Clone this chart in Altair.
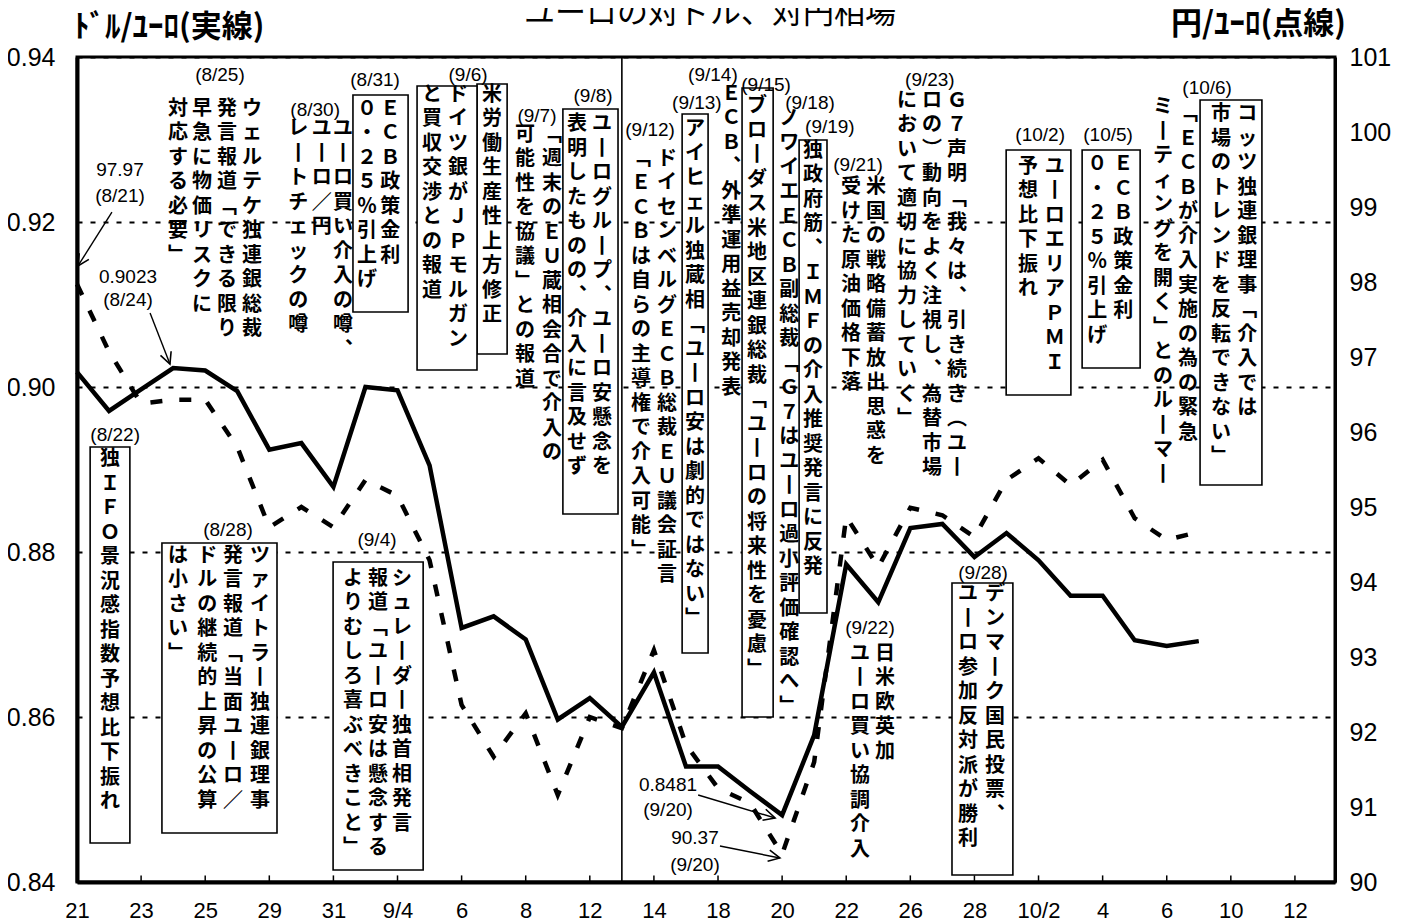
import math
import altair as alt
import pandas as pd

# ---------------- data ----------------
trading_days = ["8/21", "8/22", "8/23", "8/24", "8/25", "8/28", "8/29", "8/30", "8/31", "9/1",
                "9/4", "9/5", "9/6", "9/7", "9/8", "9/11", "9/12", "9/13", "9/14", "9/15",
                "9/18", "9/19", "9/20", "9/21", "9/22", "9/25", "9/26", "9/27", "9/28", "9/29",
                "10/2", "10/3", "10/4", "10/5", "10/6", "10/9", "10/10", "10/11", "10/12"]

usd_per_eur = [0.9018, 0.8971, 0.8997, 0.9023, 0.9020, 0.8995, 0.8924, 0.8932, 0.8879, 0.9000,
               0.8996, 0.8905, 0.8708, 0.8722, 0.8694, 0.8597, 0.8623, 0.8588, 0.8654, 0.8540,
               0.8540, 0.8510, 0.8481, 0.8578, 0.8785, 0.8739, 0.8829, 0.8834, 0.8794, 0.8823,
               0.8790, 0.8747, 0.8747, 0.8693, 0.8686, 0.8692]

jpy_per_eur = [97.97, 97.07, 96.38, 96.43, 96.43, 95.80, 94.73, 95.00, 94.73, 95.36,
               95.15, 94.29, 92.36, 91.67, 92.25, 91.16, 92.20, 92.05, 93.09, 91.83,
               91.25, 91.05, 90.37, 91.60, 94.87, 94.20, 94.99, 94.89, 94.60, 95.36,
               95.65, 95.29, 95.63, 94.85, 94.56, 94.67]

x_tick_labels = ["21", "23", "25", "29", "31", "9/4", "6", "8", "12", "14",
                 "18", "20", "22", "26", "28", "10/2", "4", "6", "10", "12"]
usd_ticks = [0.84, 0.86, 0.88, 0.90, 0.92, 0.94]
jpy_ticks = [90, 91, 92, 93, 94, 95, 96, 97, 98, 99, 100, 101]
event_day = "9/13"

title_text = "ユーロの対ドル、対円相場"
left_title = "ﾄﾞﾙ/ﾕｰﾛ(実線)"
right_title = "円/ﾕｰﾛ(点線)"

# news annotations: (day index, top in USD/EUR units, text of one vertical column)
note_columns = [
    (5.46, 0.93491, "ウェルテケ独連銀総裁"),
    (4.68, 0.93491, "発言報道「できる限り"),
    (3.90, 0.93491, "早急に物価リスクに"),
    (3.15, 0.93491, "対応する必要」"),
    (8.30, 0.93248, "ユーロ買い介入の噂、"),
    (7.64, 0.93248, "ユーロ／円"),
    (6.90, 0.93248, "レートチェックの噂"),
    (9.77, 0.93491, "ＥＣＢ政策金利"),
    (9.05, 0.93491, "０・２５％引上げ"),
    (12.95, 0.93661, "米労働生産性上方修正"),
    (11.89, 0.93661, "ドイツ銀がＪＰモルガン"),
    (11.08, 0.93661, "と買収交渉との報道"),
    (14.82, 0.93176, "「週末のＥＵ蔵相会合で介入の"),
    (13.98, 0.93176, "可能性を協議」との報道"),
    (16.38, 0.93309, "ユーログループ、ユーロ安懸念を"),
    (15.60, 0.93309, "表明したものの、介入に言及せず"),
    (18.41, 0.92885, "ドイセンベルグＥＣＢ総裁ＥＵ議会証言"),
    (17.60, 0.92885, "「ＥＣＢは自らの主導権で介入可能」"),
    (19.28, 0.93248, "アイヒェル独蔵相「ユーロ安は劇的ではない」"),
    (20.41, 0.93673, "ＥＣＢ、外準運用益売却発表"),
    (21.22, 0.93527, "ブローダス米地区連銀総裁「ユーロの将来性を憂慮」"),
    (22.22, 0.93370, "ノワイエＥＣＢ副総裁「Ｇ７はユーロ過小評価確認へ」"),
    (22.96, 0.92982, "独政府筋、ＩＭＦの介入推奨発言に反発"),
    (24.93, 0.92545, "米国の戦略備蓄放出思惑を"),
    (24.15, 0.92545, "受けた原油価格下落"),
    (25.21, 0.86885, "日米欧英加"),
    (24.43, 0.86885, "ユーロ買い協調介入"),
    (27.46, 0.93588, "Ｇ７声明「我々は、引き続き（ユー"),
    (26.68, 0.93588, "ロの）動向をよく注視し、為替市場"),
    (25.90, 0.93588, "において適切に協力していく」"),
    (30.51, 0.92788, "ユーロエリアＰＭＩ"),
    (29.67, 0.92788, "予想比下振れ"),
    (32.64, 0.92824, "ＥＣＢ政策金利"),
    (31.83, 0.92824, "０・２５％引上げ"),
    (36.51, 0.93430, "コッツ独連銀理事「介入では"),
    (35.69, 0.93430, "市場のトレンドを反転できない」"),
    (34.66, 0.93430, "「ＥＣＢが介入実施の為の緊急"),
    (33.88, 0.93515, "ミーティングを開く」とのルーマー"),
    (1.03, 0.89248, "独ＩＦＯ景況感指数予想比下振れ"),
    (5.71, 0.88073, "ツァイトラー独連銀理事"),
    (4.87, 0.88073, "発言報道「当面ユーロ／"),
    (4.06, 0.88073, "ドルの継続的上昇の公算"),
    (3.15, 0.88073, "は小さい」"),
    (10.14, 0.87794, "シュレーダー独首相発言"),
    (9.39, 0.87794, "報道「ユーロ安は懸念する"),
    (8.61, 0.87794, "よりむしろ喜ぶべきこと」"),
    (28.64, 0.87612, "デンマーク国民投票、"),
    (27.80, 0.87612, "ユーロ参加反対派が勝利"),
]

note_dates = [
    (4.46, 0.93782, "(8/25)"), (7.43, 0.93358, "(8/30)"), (9.30, 0.93721, "(8/31)"),
    (12.20, 0.93782, "(9/6)"), (14.35, 0.93285, "(9/7)"), (16.10, 0.93527, "(9/8)"),
    (17.88, 0.93115, "(9/12)"), (19.34, 0.93442, "(9/13)"), (19.84, 0.93782, "(9/14)"),
    (21.50, 0.93661, "(9/15)"), (22.87, 0.93442, "(9/18)"), (23.49, 0.93152, "(9/19)"),
    (24.37, 0.92691, "(9/21)"), (24.74, 0.87079, "(9/22)"), (26.61, 0.93721, "(9/23)"),
    (30.05, 0.93055, "(10/2)"), (32.17, 0.93055, "(10/5)"), (35.26, 0.93624, "(10/6)"),
    (1.19, 0.89418, "(8/22)"), (4.71, 0.88267, "(8/28)"), (9.36, 0.88145, "(9/4)"),
    (28.27, 0.87745, "(9/28)"),
]

# framed annotations: (x from, x to, y top, y bottom)
note_boxes = [
    (8.61, 10.33, 0.93540, 0.90909),
    (12.48, 13.42, 0.93673, 0.90400),
    (10.61, 12.48, 0.93648, 0.90206),
    (15.16, 16.88, 0.93370, 0.88461),
    (18.88, 19.69, 0.93309, 0.86776),
    (20.75, 21.72, 0.93624, 0.86000),
    (22.53, 23.40, 0.92994, 0.87261),
    (28.99, 31.01, 0.92873, 0.89903),
    (31.36, 33.17, 0.92873, 0.90230),
    (35.04, 36.97, 0.93479, 0.88812),
    (0.41, 1.65, 0.89273, 0.84473),
    (2.65, 6.24, 0.88109, 0.84594),
    (7.99, 10.80, 0.87879, 0.84145),
    (27.30, 29.20, 0.87624, 0.84085),
]

# value call-outs: (line1, line2, x, y1, y2, arrow start (x, y), arrow end (x, y))
callouts = [
    ("97.97", "(8/21)", 1.34, 0.92630, 0.92315, (1.09, 0.92121), (0.03, 0.91467)),
    ("0.9023", "(8/24)", 1.59, 0.91333, 0.91055, (2.28, 0.90897), (2.90, 0.90279)),
    ("0.8481", "(9/20)", 18.44, 0.85176, 0.84873, (19.38, 0.85055), (21.78, 0.84776)),
    ("90.37", "(9/20)", 19.28, 0.84533, 0.84206, (20.06, 0.84436), (21.93, 0.84291)),
]

# ---------------- layout / style ----------------
W, H = 1258, 825
X_DOMAIN = [0, 39.25]
USD_DOMAIN = [0.84, 0.94]
JPY_DOMAIN = [90, 101]
JP = "Noto Sans CJK JP"
NUM = "Liberation Sans Narrow, Liberation Sans, Arial, sans-serif"
LAT = "Liberation Sans, Arial, sans-serif"

xscale = alt.Scale(domain=X_DOMAIN, nice=False, zero=False)
uscale = alt.Scale(domain=USD_DOMAIN, nice=False, zero=False)
jscale = alt.Scale(domain=JPY_DOMAIN, nice=False, zero=False)

# glyph substitutions for vertical (tate-gaki) setting
VERT = str.maketrans({"ー": "丨", "「": "﹁", "」": "﹂", "、": "︑", "（": "︵", "）": "︶"})


def vertical(s):
    return "\n".join(s.translate(VERT))


label_expr = "[" + ",".join("'%s'" % t for t in x_tick_labels) + "][round(datum.value / 2)]"
tick_days = list(range(0, 2 * len(x_tick_labels), 2))

# identical axis definitions in every layer so that the shared axes merge cleanly
X_AXIS = alt.Axis(values=tick_days, labelExpr=label_expr, title=None, grid=False, tickSize=0,
                  domainColor="black", domainWidth=4, labelFont=NUM, labelFontSize=22,
                  labelColor="black", labelPadding=18, labelFlush=False, labelOverlap=False)
Y_AXIS = alt.Axis(values=usd_ticks, format=".2f", title=None, grid=True, gridColor="black",
                  gridDash=[5, 8], gridWidth=2, tickSize=0, domainColor="black", domainWidth=4,
                  labelFont=NUM, labelFontSize=25, labelColor="black", labelPadding=22,
                  labelOverlap=False, orient="left")
J_AXIS = alt.Axis(orient="right", values=jpy_ticks, title=None, grid=False, tickSize=0,
                  domainColor="black", domainWidth=3, labelFont=NUM, labelFontSize=25,
                  labelColor="black", labelPadding=14, labelOverlap=False)


def X(field):
    return alt.X(field, scale=xscale, axis=X_AXIS)


def Y(field):
    return alt.Y(field, scale=uscale, axis=Y_AXIS)


n = len(usd_per_eur)
series = pd.DataFrame({
    "day": list(range(n)),
    "date": trading_days[:n],
    "usd": usd_per_eur,
    "jpy": jpy_per_eur,
})

usd_line = alt.Chart(series).mark_line(color="black", strokeWidth=4.5).encode(
    x=X("day:Q"), y=Y("usd:Q"))

jpy_line = alt.Chart(series).mark_line(color="black", strokeWidth=4.5, strokeDash=[12, 17]).encode(
    x=X("day:Q"), y=alt.Y("jpy:Q", scale=jscale, axis=J_AXIS))

ev = trading_days.index(event_day)
event_rule = alt.Chart(pd.DataFrame({"x": [ev], "y": [USD_DOMAIN[0]], "y2": [USD_DOMAIN[1]]})).mark_rule(
    color="black", strokeWidth=1.6).encode(x=X("x:Q"), y=Y("y:Q"), y2="y2:Q")

tick_rules = alt.Chart(pd.DataFrame({"x": tick_days, "y": [USD_DOMAIN[0]] * len(tick_days),
                                     "y2": [USD_DOMAIN[0] + 0.0008] * len(tick_days)})).mark_rule(
    color="black", strokeWidth=1.5).encode(x=X("x:Q"), y=Y("y:Q"), y2="y2:Q")

boxes_df = pd.DataFrame(note_boxes, columns=["x", "x2", "y", "y2"])
boxes = alt.Chart(boxes_df).mark_rect(fill="white", stroke="black", strokeWidth=1.6).encode(
    x=X("x:Q"), x2="x2:Q", y=Y("y:Q"), y2="y2:Q")

cols_df = pd.DataFrame(note_columns, columns=["x", "y", "text"])
cols_df["text"] = cols_df["text"].map(vertical)
col_text = alt.Chart(cols_df).mark_text(
    font=JP, fontSize=20, fontWeight="bold", lineHeight=24.5, lineBreak="\n",
    align="center", baseline="top", color="black").encode(
    x=X("x:Q"), y=Y("y:Q"), text="text:N")

dates_df = pd.DataFrame(note_dates, columns=["x", "y", "text"])
date_text = alt.Chart(dates_df).mark_text(
    font=LAT, fontSize=19, align="center", baseline="middle", color="black").encode(
    x=X("x:Q"), y=Y("y:Q"), text="text:N")

c_rows = []
for l1, l2, x, y1, y2, _, _ in callouts:
    c_rows.append({"x": x, "y": y1, "text": l1})
    c_rows.append({"x": x, "y": y2, "text": l2})
callout_text = alt.Chart(pd.DataFrame(c_rows)).mark_text(
    font=LAT, fontSize=19, align="center", baseline="middle", color="black").encode(
    x=X("x:Q"), y=Y("y:Q"), text="text:N")

kx = W / (X_DOMAIN[1] - X_DOMAIN[0])
ky = H / (USD_DOMAIN[1] - USD_DOMAIN[0])
a_rows = []
for _, _, _, _, _, (xa, ya), (xb, yb) in callouts:
    ang = math.degrees(math.atan2(-(yb - ya) * ky, (xb - xa) * kx)) % 360
    a_rows.append({"x": xa, "y": ya, "x2": xb, "y2": yb, "ang": ang})
arrows_df = pd.DataFrame(a_rows)
arrow_lines = alt.Chart(arrows_df).mark_rule(color="black", strokeWidth=1.4).encode(
    x=X("x:Q"), x2="x2:Q", y=Y("y:Q"), y2="y2:Q")
arrow_heads = alt.Chart(arrows_df).mark_point(
    shape="M-1,-0.5L0,0L-1,0.5", filled=False, color="black", strokeWidth=1.6,
    size=520, opacity=1).encode(
    x=X("x2:Q"), y=Y("y2:Q"), angle=alt.Angle("ang:Q", scale=None))

main_title = alt.Chart(pd.DataFrame({"text": [title_text]})).mark_text(
    font=JP, fontSize=31, align="center", baseline="middle", color="black").encode(
    x=alt.value(W / 2 + 4), y=alt.value(-43), text="text:N")
ltitle = alt.Chart(pd.DataFrame({"text": [left_title]})).mark_text(
    font=JP, fontSize=31, fontWeight="bold", align="left", baseline="middle", color="black").encode(
    x=alt.value(-3), y=alt.value(-29), text="text:N")
rtitle = alt.Chart(pd.DataFrame({"text": [right_title]})).mark_text(
    font=JP, fontSize=31, fontWeight="bold", align="right", baseline="middle", color="black").encode(
    x=alt.value(W + 11), y=alt.value(-32), text="text:N")

left = alt.layer(boxes, event_rule, tick_rules, usd_line, arrow_lines, arrow_heads,
                 date_text, col_text, callout_text, main_title, ltitle, rtitle)

chart = alt.layer(left, jpy_line).resolve_scale(y="independent").properties(
    width=W, height=H,
    autosize=alt.AutoSizeParams(type="none"),
    padding={"left": 69, "top": 49, "right": 76, "bottom": 40},
    background="white",
).configure_view(stroke="black", strokeWidth=3)

chart.save("out.html", embed_options={"renderer": "svg", "actions": False})
